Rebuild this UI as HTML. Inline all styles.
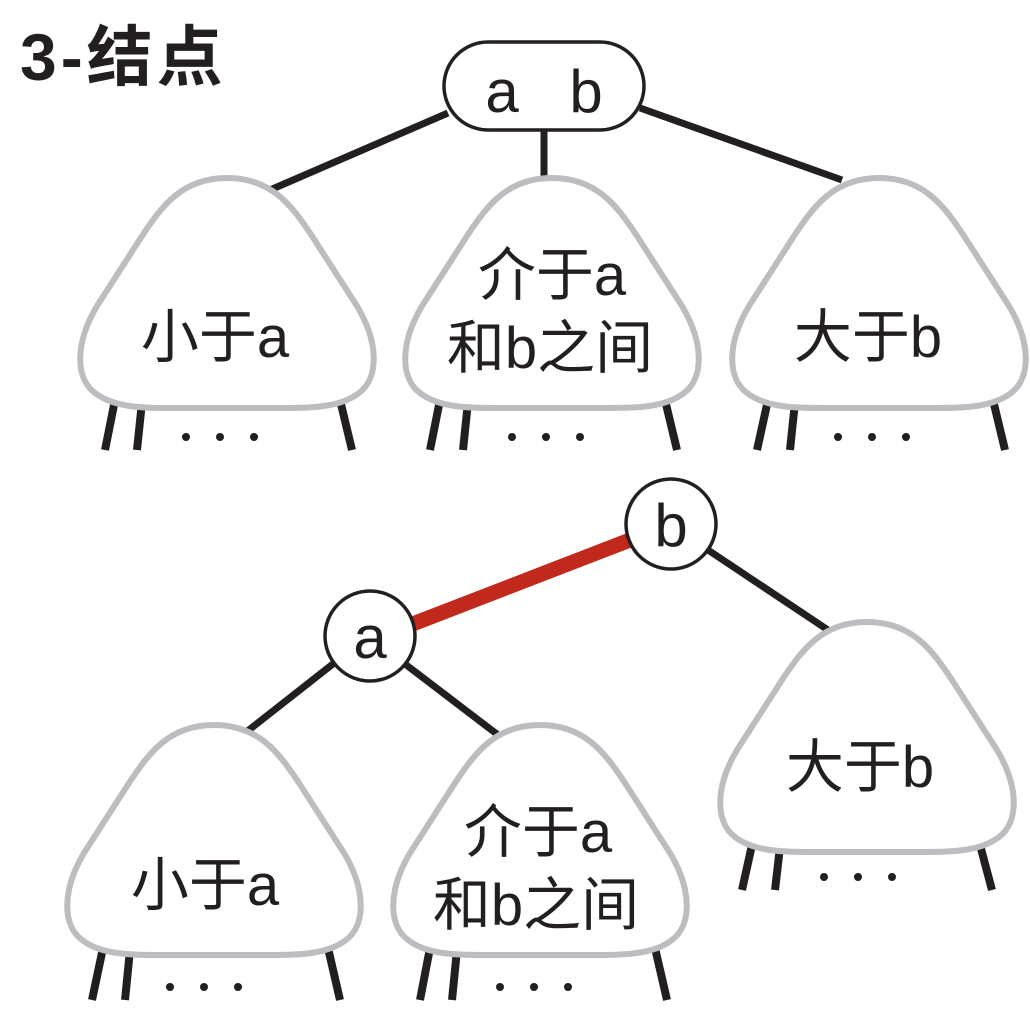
<!DOCTYPE html>
<html><head><meta charset="utf-8"><style>
html,body{margin:0;padding:0;background:#fff;}
svg{display:block}
text{font-family:"Liberation Sans","Noto Sans CJK SC",sans-serif;fill:#231f20}
</style></head><body>
<svg width="1030" height="1017" viewBox="0 0 1030 1017" xmlns="http://www.w3.org/2000/svg">
<defs>
<path id="tri" d="M0,0 C45,0 65,28 85,58 L130,128 C152,165 152,200 132,215 C115,228 90,230 60,230 L-60,230 C-90,230 -115,228 -132,215 C-152,200 -152,165 -130,128 L-85,58 C-65,28 -45,0 0,0Z" fill="#fff" stroke="#bcbdc0" stroke-width="6"/>
</defs>
<text x="20" y="80" font-size="66" font-weight="bold" letter-spacing="4">3-结点</text>

<g stroke="#231f20" stroke-width="7" stroke-linecap="butt">
<line x1="448" y1="113" x2="270" y2="190"/>
<line x1="544" y1="128" x2="544" y2="180"/>
<line x1="640" y1="108" x2="842" y2="180"/>
<line x1="705" y1="548" x2="828" y2="630"/>
<line x1="338" y1="660" x2="245" y2="733"/>
<line x1="405" y1="664" x2="502" y2="738"/>
</g>
<line x1="410" y1="625" x2="630" y2="540" stroke="#c0291c" stroke-width="15"/>

<g stroke="#231f20" stroke-width="8">
<line x1="115" y1="400" x2="105" y2="450"/><line x1="142" y1="402" x2="137" y2="450"/><line x1="340" y1="400" x2="352" y2="450"/>
<line x1="440" y1="400" x2="430" y2="450"/><line x1="468" y1="402" x2="463" y2="450"/><line x1="665" y1="400" x2="677" y2="450"/>
<line x1="768" y1="400" x2="757" y2="450"/><line x1="795" y1="402" x2="790" y2="450"/><line x1="993" y1="400" x2="1005" y2="450"/>
<line x1="752" y1="845" x2="742" y2="890"/><line x1="780" y1="847" x2="775" y2="890"/><line x1="980" y1="845" x2="992" y2="890"/>
<line x1="103" y1="948" x2="92" y2="1000"/><line x1="130" y1="950" x2="125" y2="1000"/><line x1="328" y1="948" x2="340" y2="1000"/>
<line x1="430" y1="948" x2="420" y2="1000"/><line x1="457" y1="950" x2="452" y2="1000"/><line x1="655" y1="948" x2="667" y2="1000"/>
</g>

<use href="#tri" x="227" y="178"/>
<use href="#tri" x="552" y="178"/>
<use href="#tri" x="879" y="178"/>
<use href="#tri" x="867" y="622"/>
<use href="#tri" x="214" y="725"/>
<use href="#tri" x="540" y="725"/>

<g fill="#231f20">
<circle cx="186" cy="437" r="4"/><circle cx="220" cy="437" r="4"/><circle cx="254" cy="437" r="4"/>
<circle cx="512" cy="437" r="4"/><circle cx="546" cy="437" r="4"/><circle cx="580" cy="437" r="4"/>
<circle cx="838" cy="437" r="4"/><circle cx="872" cy="437" r="4"/><circle cx="906" cy="437" r="4"/>
<circle cx="824" cy="877" r="4"/><circle cx="858" cy="877" r="4"/><circle cx="892" cy="877" r="4"/>
<circle cx="170" cy="987" r="4"/><circle cx="204" cy="987" r="4"/><circle cx="238" cy="987" r="4"/>
<circle cx="500" cy="987" r="4"/><circle cx="534" cy="987" r="4"/><circle cx="568" cy="987" r="4"/>
</g>

<rect x="444" y="42" width="200" height="88" rx="44" fill="#fff" stroke="#231f20" stroke-width="3.5"/>
<text x="502" y="112" font-size="60" text-anchor="middle">a</text>
<text x="586" y="112" font-size="60" text-anchor="middle">b</text>
<circle cx="671" cy="524" r="45" fill="#fff" stroke="#231f20" stroke-width="3.5"/>
<text x="671" y="546" font-size="60" text-anchor="middle">b</text>
<circle cx="370" cy="636" r="45" fill="#fff" stroke="#231f20" stroke-width="3.5"/>
<text x="370" y="658" font-size="60" text-anchor="middle">a</text>

<g font-size="58" text-anchor="middle">
<text x="215" y="357">小于a</text>
<text x="552" y="295">介于a</text>
<text x="550" y="368">和b之间</text>
<text x="868" y="357">大于b</text>
<text x="860" y="787">大于b</text>
<text x="205" y="905">小于a</text>
<text x="538" y="852">介于a</text>
<text x="536" y="925">和b之间</text>
</g>
</svg>
</body></html>
